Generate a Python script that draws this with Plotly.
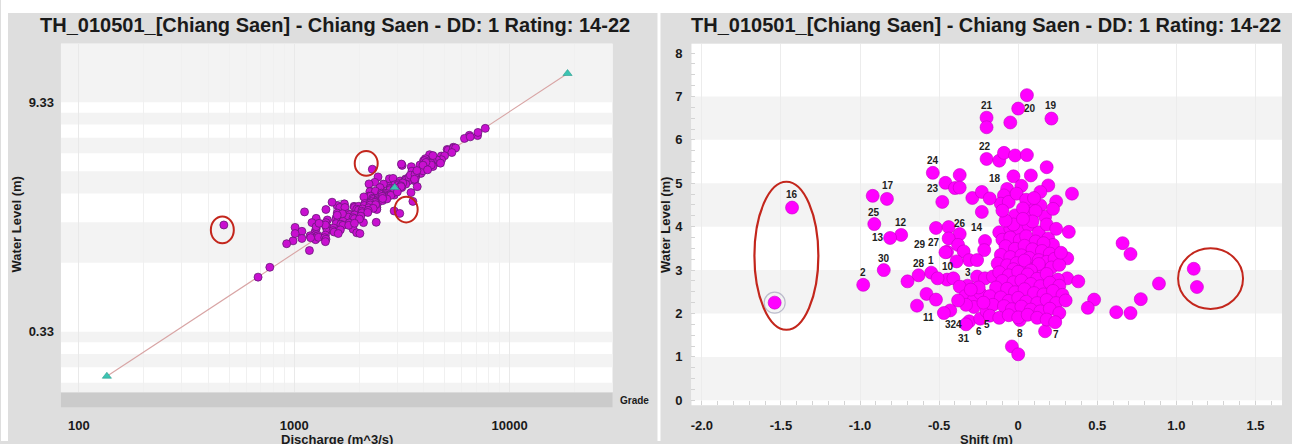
import math
import plotly.graph_objects as go

W, H = 1292, 444
FONT = "Liberation Sans, Arial, Helvetica, sans-serif"

TITLE = "TH_010501_[Chiang Saen] - Chiang Saen - DD: 1 Rating: 14-22"

# ---- gauging measurements (same points in both panels) ----
# first 30 points carry an id label in the shift panel
LEVEL = [
    4.44, 4.64, 4.06, 3.81, 3.74, 5.24, 4.57, 3.83, 3.67, 3.42, 3.41, 2.88, 2.94, 3.00, 2.66,
    2.78, 2.64, 2.18, 2.07, 1.82, 1.75, 1.88, 2.05, 1.85, 1.59, 5.16, 6.49, 6.72, 6.51, 5.56,
    4.71, 2.25, 6.29, 6.40, 7.03, 5.52, 5.70, 5.64, 5.65, 5.37, 5.18, 4.95, 4.80, 4.94, 4.87,
    4.72, 4.53, 4.57, 4.76, 4.76, 4.58, 4.49, 4.49, 4.26, 4.30, 4.23, 4.62, 4.66, 4.42, 4.36,
    5.01, 5.19, 4.89, 4.90, 4.66, 3.97, 3.99, 4.80, 4.65, 4.34, 2.74, 3.73,
    3.88, 3.87, 3.96, 3.92, 4.03, 3.87, 3.73, 3.58, 3.27, 3.46, 3.58, 3.43, 3.23, 3.23, 3.20,
    3.70, 3.75, 3.69, 3.78, 3.66, 3.62, 3.55, 3.49, 3.56, 3.48, 3.44, 3.38, 3.35, 3.30, 3.34,
    3.28, 3.23, 3.19, 3.26, 3.15, 3.11, 3.16, 3.09, 3.04, 2.99, 3.06, 3.12, 3.22, 3.02, 3.14,
    3.40, 2.99,
    2.81, 2.74, 2.32, 2.13, 2.03, 2.01, 2.33, 2.69, 3.62, 3.37, 3.03, 2.61,
    2.81, 2.45, 2.32, 2.01, 2.81, 2.62, 2.40, 2.32, 2.47, 2.85, 2.81, 2.85,
    2.95, 2.88, 2.96, 2.90, 2.80, 2.91, 2.78, 2.75, 2.72, 2.76, 2.68, 2.63, 2.71, 2.64, 2.60,
    2.57, 2.49, 2.56, 2.47, 2.44, 2.52, 2.43, 2.40, 2.37, 2.29, 2.36, 2.27, 2.24, 2.31, 2.24,
    2.30, 2.20, 2.17, 2.10, 2.16, 2.09, 2.05, 2.11, 2.01, 1.95, 1.90, 1.96, 1.91, 1.97, 1.90,
    1.86, 1.80, 1.24, 1.06,
    2.60, 2.55, 2.15, 2.25, 2.20, 2.30,
    4.05, 4.12, 4.05, 4.14, 4.18, 3.95, 4.37, 4.41,
]
SHIFT = [
    -1.43, -0.83, -0.91, -0.74, -0.81, -0.54, -0.48, -0.37, -0.21, -0.45, -0.46, -0.63, -0.55, -0.85, -0.98,
    -0.45, -0.32, -0.64, -0.43, -0.31, -0.33, -0.24, -0.20, 0.01, 0.17, -0.03, 0.21, 0.00, -0.20, -0.20,
    -0.92, -1.54, -0.20, -0.05, 0.055, -0.12, -0.09, -0.02, 0.055, 0.18, 0.08, 0.19, 0.14, 0.02, -0.07,
    -0.09, -0.11, -0.06, -0.01, 0.34, 0.24, 0.08, 0.14, -0.02, 0.055, 0.17, 0.05, 0.10, 0.03, 0.11,
    -0.46, -0.37, -0.40, -0.37, -0.29, -0.52, -0.44, -0.23, -0.18, -0.23, -0.70, -0.44,
    0.32, -0.12, -0.05, 0.01, 0.065, 0.13, 0.19, 0.22, 0.31, -0.215, -0.38, -0.345, -0.31, -0.26, -0.39,
    -0.10, -0.05, 0.01, 0.05, 0.11, 0.16, -0.08, -0.02, 0.04, 0.09, 0.15, 0.20, -0.11, -0.05, 0.02,
    0.07, 0.13, 0.18, 0.23, -0.13, -0.07, -0.01, 0.05, 0.11, 0.16, 0.21, 0.26, 0.04, -0.03, 0.13,
    0.27, 0.08,
    0.31, 0.38, 0.48, 0.44, 0.62, 0.71, 0.775, 0.89, 0.66, 0.71, 1.11, 1.13,
    -0.51, -0.58, -0.52, -0.47, -0.41, -0.37, -0.335, -0.28, -0.24, -0.26, -0.21, -0.16,
    -0.12, -0.06, 0.00, 0.06, 0.12, 0.18, 0.25, -0.10, -0.03, 0.02, 0.08, 0.14, 0.20, 0.26, -0.14,
    -0.07, -0.02, 0.04, 0.10, 0.16, 0.22, 0.28, -0.18, -0.11, -0.06, 0.00, 0.05, 0.12, 0.18, 0.24,
    0.30, -0.16, -0.09, -0.04, 0.02, 0.08, 0.14, 0.20, 0.26, -0.18, -0.12, -0.06, 0.00, 0.06, 0.12,
    0.18, 0.234, -0.04, 0.00,
    -0.25, -0.30, -0.28, -0.22, -0.33, -0.38,
    -0.03, 0.09, 0.18, -0.08, 0.03, 0.24, -0.10, 0.22,
]
DISCHARGE = [
    2304, 3169, 2449, 2366, 2224, 4250, 3496, 2777, 2777, 2264, 2244, 1583, 1709, 1498, 1116,
    1655, 1646, 1009, 1085, 987, 922, 1085, 1248, 1256, 1176, 4816, 7099, 7130, 6502, 5129,
    3145, 471, 6172, 6562, 7709, 5184, 5478, 5492, 5613, 5393, 4991, 4829, 4562, 4588, 4379,
    4161, 3898, 4009, 4313, 4775, 4405, 4085, 4161, 3676, 3817, 3873, 4212, 4326, 3935, 3960,
    4060, 4405, 3984, 4034, 3836, 2766, 2876, 4085, 3960, 3520, 1403, 2595,
    3628, 3099, 3285, 3308, 3502, 3388, 3296, 3157, 2910, 2546, 2500, 2382, 2214, 2264, 2105,
    2932, 3044, 3044, 3192, 3122, 3134, 2787, 2787, 2932, 2898, 2921, 2910, 2541, 2552, 2670,
    2659, 2670, 2680, 2809, 2315, 2335, 2449, 2438, 2449, 2449, 2573, 2691, 2563, 2284, 2573,
    3010, 2366,
    2418, 2418, 2096, 1876, 1951, 2018, 2402, 2910, 3724, 3484, 3556, 3089,
    1628, 1264, 1208, 1009, 1719, 1583, 1425, 1403, 1567, 1895, 1904, 1989,
    2125, 2115, 2254, 2254, 2214, 2387, 2325, 1951, 1989, 2076, 2056, 2066, 2204, 2195, 1772,
    1809, 1781, 1904, 1876, 1904, 2037, 2008, 1558, 1592, 1567, 1682, 1646, 1682, 1800, 1790,
    1904, 1403, 1438, 1421, 1524, 1515, 1532, 1637, 1601, 1184, 1192, 1288, 1296, 1395, 1386,
    1403, 1395, 770, 679,
    1673, 1583, 1264, 1395, 1264, 1304,
    3412, 3640, 3664, 3460, 3640, 3616, 3712, 4161,
]
POINT_LABELS = ["16", "17", "25", "12", "13", "24", "23", "26", "14", "27", "29", "28", "1", "30", "2",
                "10", "3", "11", "32", "4", "31", "6", "5", "8", "7", "18", "19", "20", "21", "22"]

# rating curve 14-22 (discharge m3/s, water level m)
RATING_Q = [134.8, 2925, 18580]
RATING_LEVEL = [-0.03, 3.58, 12.68]
LEVEL_OFFSET = 0.67          # offset of the log stage axis (0.33 + 0.67 = 1)

# tick labels
Q_TICKS = [100, 1000, 10000]
Q_MINOR = [200, 300, 400, 500, 600, 700, 800, 900, 2000, 3000, 4000, 5000, 6000, 7000, 8000, 9000, 20000]
LEFT_LEVEL_TICKS = [0.33, 9.33]
SHIFT_TICKS = [-2.0, -1.5, -1.0, -0.5, 0.0, 0.5, 1.0, 1.5]
SHIFT_TICKTEXT = ["-2.0", "-1.5", "-1.0", "-0.5", "0", "0.5", "1.0", "1.5"]
RIGHT_LEVEL_TICKS = [0, 1, 2, 3, 4, 5, 6, 7, 8]

SELECTED_LEFT = 15   # halo (point "10")
SELECTED_RIGHT = 31  # halo (outlier at -1.54 m)

assert len(LEVEL) == len(SHIFT) == len(DISCHARGE)

# ---- styling helpers ----
def px(x):
    return x / W

def py(y):
    return 1 - y / H

BG = "#dedede"
BAND = "#f3f3f3"
TXT = "#1a1a1a"
RED = "#c3261c"

shapes = []
# white page strips around the two gray panels
for (x0, y0, x1, y1) in [(0, 0, 1292, 13), (0, 0, 7, 444), (657, 0, 660, 444)]:
    shapes.append(dict(type="rect", xref="paper", yref="paper", x0=px(x0), x1=px(x1), y0=py(y1), y1=py(y0),
                       fillcolor="white", line=dict(width=0), layer="below"))
# grade strip under left plot
shapes.append(dict(type="rect", xref="paper", yref="paper", x0=px(60), x1=px(612), y0=py(410), y1=py(395),
                   fillcolor="#cbcbcb", line=dict(width=0), layer="below"))

# alternating bands, left (log stage axis, values in axis units)
left_gray_bands = [(0.5, 0.6), (0.7, 0.8), (0.9, 1), (2, 3), (4, 5), (6, 7), (8, 9), (10, 20)]
for a, b in left_gray_bands:
    shapes.append(dict(type="rect", xref="x domain", yref="y", x0=0, x1=1,
                       y0=a, y1=b, fillcolor=BAND, line=dict(width=0), layer="below"))
right_gray_bands = [(0, 1), (2, 3), (4, 5), (6, 7)]
for a, b in right_gray_bands:
    shapes.append(dict(type="rect", xref="x2 domain", yref="y2", x0=0, x1=1,
                       y0=a, y1=b, fillcolor=BAND, line=dict(width=0), layer="below"))

# red hand-drawn highlight ellipses (pixel boxes)
for (x0, y0, x1, y1, w) in [(210, 218, 233, 245, 2), (354, 152, 377, 177, 2), (394, 198, 417, 224, 2),
                            (754, 183, 818, 332, 2.2), (1178, 250, 1243, 311, 2)]:
    shapes.append(dict(type="circle", xref="paper", yref="paper", x0=px(x0), x1=px(x1),
                       y0=py(y1), y1=py(y0), line=dict(color=RED, width=w), layer="above"))

fig = go.Figure()

# left: stage-discharge
fig.add_trace(go.Scatter(
    x=[DISCHARGE[SELECTED_LEFT]], y=[LEVEL[SELECTED_LEFT] + LEVEL_OFFSET], mode="markers",
    marker=dict(symbol="circle-open", size=16, color="#b4b4c8", line=dict(width=1.2)),
    xaxis="x", yaxis="y", hoverinfo="skip", showlegend=False))
fig.add_trace(go.Scatter(
    x=RATING_Q, y=[v + LEVEL_OFFSET for v in RATING_LEVEL], mode="lines",
    line=dict(color="#d8a4a4", width=1.1), xaxis="x", yaxis="y", hoverinfo="skip", showlegend=False))
fig.add_trace(go.Scatter(
    x=DISCHARGE, y=[v + LEVEL_OFFSET for v in LEVEL], mode="markers",
    marker=dict(size=8, color="#c810d0", line=dict(color="#6a1878", width=0.8)),
    xaxis="x", yaxis="y", hoverinfo="skip", showlegend=False))
fig.add_trace(go.Scatter(
    x=RATING_Q, y=[v + LEVEL_OFFSET for v in RATING_LEVEL], mode="markers",
    marker=dict(symbol="triangle-up", size=8, color="#3cc4b2", line=dict(color="#2b9c8e", width=0.6)),
    xaxis="x", yaxis="y", hoverinfo="skip", showlegend=False))

# right: shift vs level
fig.add_trace(go.Scatter(
    x=[SHIFT[SELECTED_RIGHT]], y=[LEVEL[SELECTED_RIGHT]], mode="markers",
    marker=dict(symbol="circle-open", size=21, color="#bcbccc", line=dict(width=1.2)),
    xaxis="x2", yaxis="y2", hoverinfo="skip", showlegend=False))
fig.add_trace(go.Scatter(
    x=SHIFT, y=LEVEL, mode="markers",
    marker=dict(size=13, color="#ff00ff", line=dict(color="#c400c4", width=0.6)),
    xaxis="x2", yaxis="y2", hoverinfo="skip", showlegend=False))

# label offsets (pixels, dx right, dy down) relative to each labelled point
LABEL_OFFSET = {"16": (0, -13), "17": (1, -13), "25": (0, -12), "12": (0, -12), "13": (-12, 0),
                "24": (0, -12), "23": (-9, -13), "26": (0, -11), "14": (-8, -13), "27": (-13, -9),
                "29": (-25, -8), "28": (0, -12), "1": (0, -12), "30": (0, -12), "2": (0, -12),
                "10": (1, -13), "3": (0, -13), "11": (12, 12), "32": (1, 14), "4": (-10, 3),
                "31": (-2, 14), "6": (-1, 13), "5": (0, 13), "8": (0, 14), "7": (11, 3),
                "18": (-18, 2), "19": (0, -13), "20": (12, 0), "21": (0, -12), "22": (-2, -12)}

annotations = []
for i, lab in enumerate(POINT_LABELS):
    dx, dy = LABEL_OFFSET.get(lab, (0, -12))
    annotations.append(dict(text=lab, x=SHIFT[i], y=LEVEL[i], xref="x2", yref="y2", showarrow=False,
                            xshift=dx, yshift=-dy, xanchor="center", yanchor="middle",
                            font=dict(family=FONT, size=10, color="#222222", weight="bold")))

tickfont = dict(family=FONT, size=13, color=TXT, weight="bold")
boldfont = dict(family=FONT, size=13, color=TXT, weight="bold")

annotations += [
    dict(text=TITLE, xref="paper", yref="paper", x=px(334), y=py(25), showarrow=False,
         xanchor="center", yanchor="middle", font=dict(family=FONT, size=20, color=TXT, weight="bold")),
    dict(text=TITLE, xref="paper", yref="paper", x=px(986), y=py(25), showarrow=False,
         xanchor="center", yanchor="middle", font=dict(family=FONT, size=20, color=TXT, weight="bold")),
    dict(text="Water Level (m)", xref="paper", yref="paper", x=px(15), y=py(226), textangle=-90,
         showarrow=False, xanchor="center", yanchor="middle", font=boldfont),
    dict(text="Water Level (m)", xref="paper", yref="paper", x=px(665), y=py(226), textangle=-90,
         showarrow=False, xanchor="center", yanchor="middle", font=boldfont),
    dict(text="Discharge (m^3/s)", xref="paper", yref="paper", x=px(336), y=py(442), showarrow=False,
         xanchor="center", yanchor="middle", font=boldfont),
    dict(text="Shift (m)", xref="paper", yref="paper", x=px(986), y=py(442), showarrow=False,
         xanchor="center", yanchor="middle", font=boldfont),
    dict(text="Grade", xref="paper", yref="paper", x=px(634), y=py(403), showarrow=False,
         xanchor="center", yanchor="middle", font=dict(family=FONT, size=10, color=TXT, weight="bold")),
]

fig.update_layout(
    width=W, height=H, margin=dict(l=0, r=0, t=0, b=0),
    paper_bgcolor=BG, plot_bgcolor="white", showlegend=False,
    shapes=shapes, annotations=annotations,
    xaxis=dict(domain=[px(60), px(612)], anchor="y", type="log", range=[1.9165, 4.478],
               tickvals=Q_TICKS, ticktext=[str(v) for v in Q_TICKS], tickfont=tickfont,
               showgrid=True, gridcolor="#e9e9e9", gridwidth=1, zeroline=False, showline=False,
               ticks="", ticklabelstandoff=24,
               minor=dict(tickvals=Q_MINOR, showgrid=True, gridcolor="#f0f0f0", gridwidth=1)),
    yaxis=dict(domain=[py(395), py(44)], anchor="x", type="log", range=[-0.264, 1.2554],
               tickvals=[v + LEVEL_OFFSET for v in LEFT_LEVEL_TICKS],
               ticktext=["%.2f" % v for v in LEFT_LEVEL_TICKS], tickfont=tickfont,
               showgrid=False, zeroline=False, showline=False, ticks="", ticklabelstandoff=6),
    xaxis2=dict(domain=[px(691), px(1282)], anchor="y2", range=[-2.066, 1.668],
                tickvals=SHIFT_TICKS, ticktext=SHIFT_TICKTEXT, tickfont=tickfont,
                showgrid=True, gridcolor="#ececec", zeroline=False, showline=False,
                ticks="", ticklabelstandoff=11,
                minor=dict(dtick=0.1, ticks="inside", ticklen=4, tickcolor="#d4d4d4", showgrid=False)),
    yaxis2=dict(domain=[py(408), py(44)], anchor="x2", range=[-0.114, 8.215],
                tickvals=RIGHT_LEVEL_TICKS, ticktext=[str(v) for v in RIGHT_LEVEL_TICKS], tickfont=tickfont,
                showgrid=False, zeroline=False, showline=False, ticks="", ticklabelstandoff=8,
                minor=dict(dtick=0.25, ticks="inside", ticklen=4, tickcolor="#d4d4d4", showgrid=False)),
)

fig.write_html("out.html")
